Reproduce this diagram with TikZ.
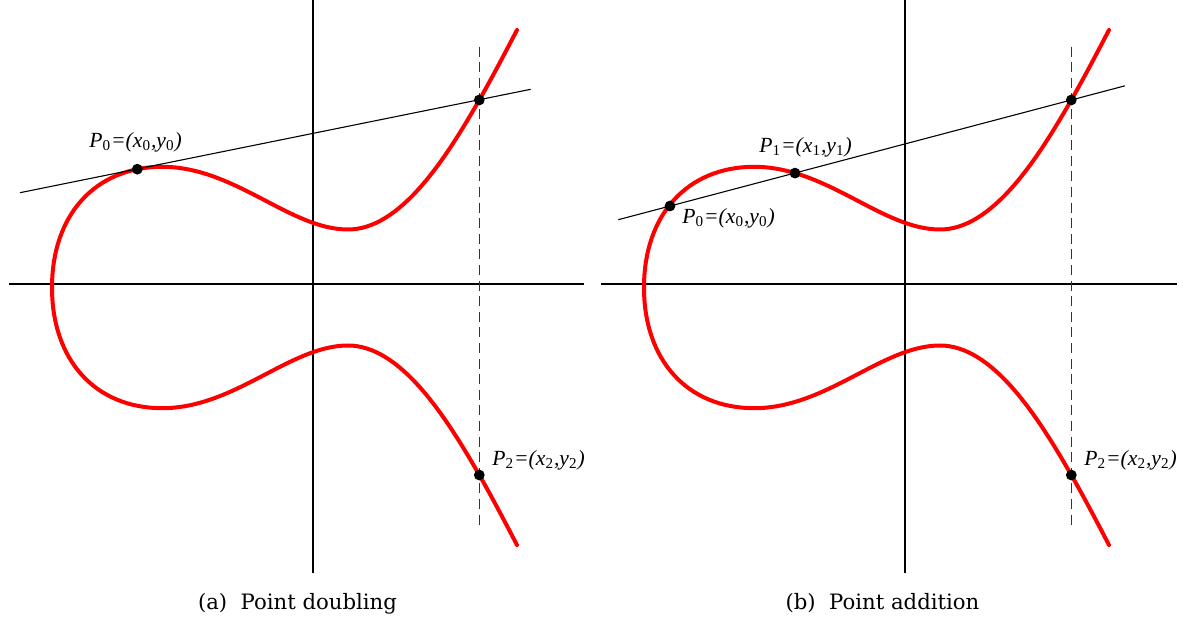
\documentclass[tikz,border=0pt]{standalone}
\usepackage{fontspec}
\setmainfont{Liberation Serif}
\newfontfamily\capfont{DejaVu Serif}
\newcommand{\ecurve}{(517,30) .. controls (505,53) and (493,76) .. (479.3,100)
 .. controls (445,160) and (400,229.5) .. (348,229.5)
 .. controls (290,229.5) and (235,166.8) .. (162,166.8)
 .. controls (95,167) and (52,215) .. (52,287.5)
 .. controls (52,360) and (95,408) .. (162,408.2)
 .. controls (235,408.2) and (290,345.5) .. (348,345.5)
 .. controls (400,345.5) and (445,415) .. (479.3,475)
 .. controls (493,499) and (505,522) .. (517,545)}
\newcommand{\ecpt}[2]{\textit{#1}\textsubscript{\upshape #2}}
\newcommand{\ptlabel}[1]{\ecpt{P}{#1}=(\ecpt{x}{#1},\ecpt{y}{#1})}
\begin{document}
\begin{tikzpicture}[x=0.5pt,y=-0.5pt,
  axis/.style={black,line width=0.95pt},
  ecc/.style={red,line width=2pt,line cap=round,line join=round},
  secant/.style={black,line width=0.55pt},
  vdash/.style={black!80,line width=0.8pt,dash pattern=on 5pt off 2.8pt},
  dot/.style={circle,fill=black,inner sep=0pt,minimum size=5.4pt},
  lbl/.style={anchor=west,inner sep=0pt,font=\fontsize{10.8}{12}\selectfont\itshape},
  captxt/.style={anchor=base,inner sep=0pt,font=\capfont\fontsize{10.6}{12}\selectfont}]
\useasboundingbox (0,0) rectangle (1190,625);
% ---------- left panel ----------
\coordinate (La1) at (9,284.3); \coordinate (La2) at (584.3,284.3);
\coordinate (Lb1) at (312.7,0); \coordinate (Lb2) at (312.7,572.7);
\draw[axis] (La1) -- (La2);
\draw[axis] (Lb1) -- (Lb2);
\draw[ecc] \ecurve;
\coordinate (Ls1) at (20,192.7); \coordinate (Ls2) at (530.7,89.3);
\draw[secant] (Ls1) -- (Ls2);
\coordinate (Ld1) at (479.3,46.7); \coordinate (Ld2) at (479.3,530);
\draw[vdash] (Ld1) -- (Ld2);
\node[dot] (LP0) at (137.3,169.2) {};
\node[dot] (LQ) at (479.3,100) {};
\node[dot] (LP2) at (479.3,475) {};
\node[lbl] (LP0t) at (89,142) {\ptlabel{0}};
\node[lbl] (LP2t) at (492,460) {\ptlabel{2}};
\node[captxt] (capa) at (297.5,610) {(a)\ \ Point doubling};
% ---------- right panel ----------
\begin{scope}[shift={(592,0)}]
\coordinate (Ra1) at (9,284.3); \coordinate (Ra2) at (585.3,284.3);
\coordinate (Rb1) at (312.7,0); \coordinate (Rb2) at (312.7,572.7);
\draw[axis] (Ra1) -- (Ra2);
\draw[axis] (Rb1) -- (Rb2);
\draw[ecc] \ecurve;
\coordinate (Rs1) at (26.3,219.7); \coordinate (Rs2) at (533,85.8);
\draw[secant] (Rs1) -- (Rs2);
\coordinate (Rd1) at (479.3,46.7); \coordinate (Rd2) at (479.3,530);
\draw[vdash] (Rd1) -- (Rd2);
\node[dot] (RP0) at (78,206) {};
\node[dot] (RP1) at (203,173.1) {};
\node[dot] (RQ) at (479.3,100) {};
\node[dot] (RP2) at (479.3,475) {};
\node[lbl] (RP1t) at (167,147) {\ptlabel{1}};
\node[lbl] (RP0t) at (90,218) {\ptlabel{0}};
\node[lbl] (RP2t) at (492,460) {\ptlabel{2}};
\node[captxt] (capb) at (290.5,610) {(b)\ \ Point addition};
\end{scope}
\end{tikzpicture}
\end{document}
